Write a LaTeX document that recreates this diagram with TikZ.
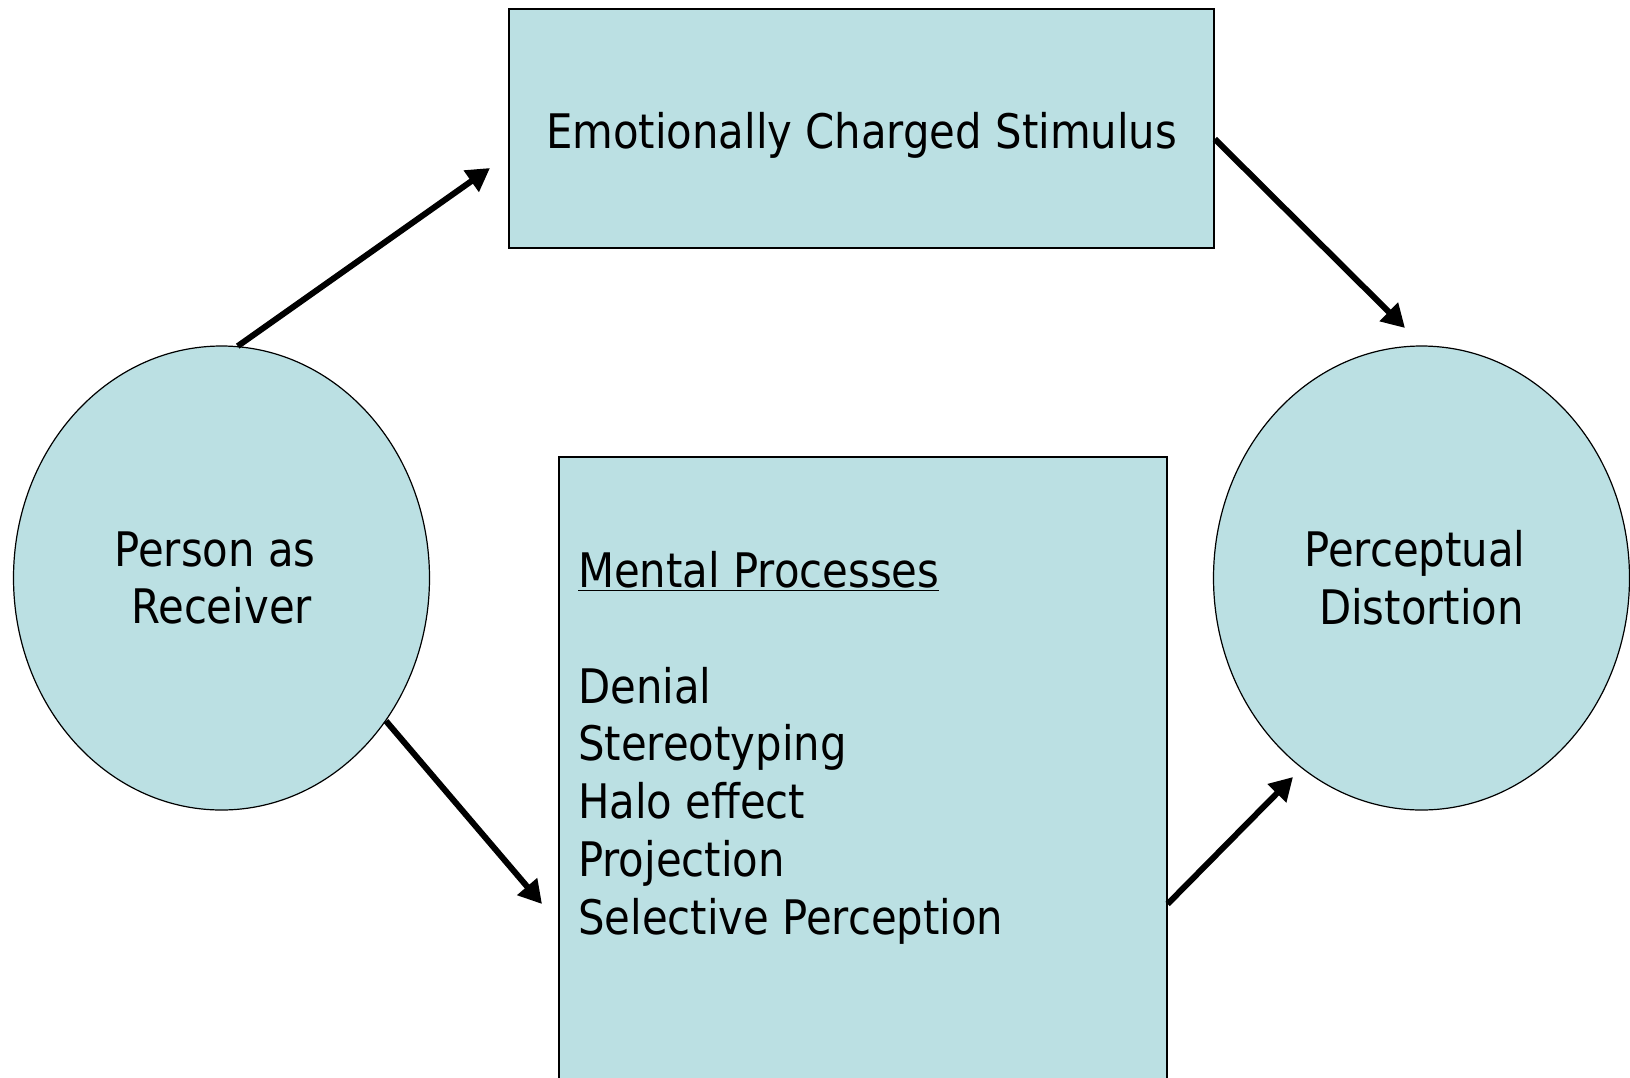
\documentclass[tikz,border=0pt]{standalone}
\usepackage{fontspec}
\setmainfont{DejaVu Sans}[FakeStretch=0.878]
\usetikzlibrary{arrows.meta,shapes.geometric}
\definecolor{boxfill}{RGB}{187,224,227}
\begin{document}
\begin{tikzpicture}[x=1pt,y=-1pt,
  every node/.style={font=\fontsize{47.6}{57.7}\selectfont},
  shapebox/.style={draw=black, line width=1.6pt, fill=boxfill, inner sep=0pt},
  oval/.style={ellipse, draw=black, line width=1.2pt, fill=boxfill, inner sep=0pt,
    minimum width=416pt, minimum height=464pt, align=center},
  arr/.style={line width=6pt, -{Triangle[length=23pt,width=25pt]}}]
\useasboundingbox (0,0) rectangle (1630,1077);
\clip (0,0) rectangle (1630,1077);
\node[shapebox, minimum width=705pt, minimum height=239pt, text height=40pt, text depth=0pt] (T) at (861.5,128.5) {Emotionally Charged Stimulus};
\node[shapebox, minimum width=608pt, minimum height=640pt, anchor=north west] (B) at (558,456) {};
\node[anchor=base west, align=left, inner sep=0pt] (Bt) at (578,934)
  {\underline{Mental Processes}\\[57.7pt]
   Denial\\
   Stereotyping\\
   Halo effect\\
   Projection\\
   Selective Perception};
\node[oval] (L) at (221.5,578) {Person as\hspace*{13pt}\\Receiver};
\node[oval] (R) at (1421.5,578) {Perceptual\hspace*{13pt}\\Distortion};
\coordinate (a1) at (490,168);
\coordinate (a2) at (1405,328);
\coordinate (a3) at (542,904);
\coordinate (a4) at (1293,777);
\draw[arr] (L.86) -- (a1);
\draw[arr] ([yshift=-10.5pt]T.east) -- (a2);
\draw[arr] (L.-41) -- (a3);
\draw[arr] ([yshift=-448pt]B.north east) -- (a4);
\end{tikzpicture}
\end{document}
